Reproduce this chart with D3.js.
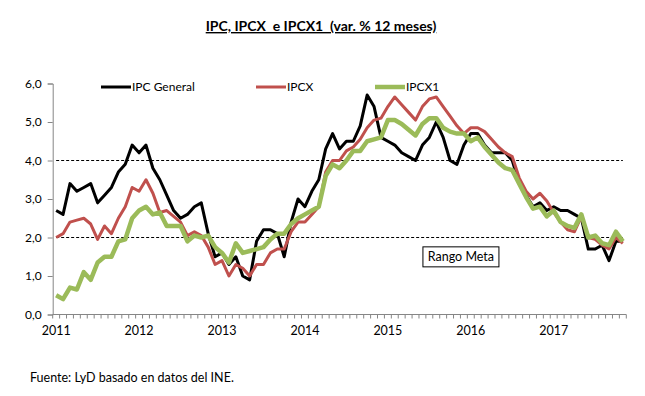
<!DOCTYPE html>
<html>
<head>
<meta charset="utf-8">
<script src="https://cdn.jsdelivr.net/npm/d3@7"></script>
<style>
  body { margin: 0; background: #fff; }
  svg { display: block; font-family: Lato, "Open Sans", sans-serif; }
  .pre { white-space: pre; }
</style>
</head>
<body>
<script>
// IPC, IPCX, IPCX1 - var. % 12 meses, ene 2011 - nov 2017

var months = d3.timeMonth.range(new Date(2011, 0, 1), new Date(2017, 11, 1));

var years = ["2011", "2012", "2013", "2014", "2015", "2016", "2017"];

var ipc = [
  2.7, 2.6, 3.4, 3.2, 3.3, 3.4, 2.9, 3.1, 3.3, 3.7, 3.9, 4.4,
  4.2, 4.4, 3.8, 3.5, 3.1, 2.7, 2.5, 2.6, 2.8, 2.9, 2.1, 1.5,
  1.6, 1.3, 1.5, 1.0, 0.9, 1.9, 2.2, 2.2, 2.1, 1.5, 2.4, 3.0,
  2.8, 3.2, 3.5, 4.3, 4.7, 4.3, 4.5, 4.5, 4.9, 5.7, 5.4, 4.6,
  4.5, 4.4, 4.2, 4.1, 4.0, 4.4, 4.6, 5.0, 4.6, 4.0, 3.9, 4.4,
  4.7, 4.7, 4.4, 4.2, 4.2, 4.2, 4.0, 3.4, 3.1, 2.8, 2.9, 2.7,
  2.8, 2.7, 2.7, 2.6, 2.5, 1.7, 1.7, 1.8, 1.4, 1.9, 1.9
];

var ipcx = [
  2.0, 2.1, 2.4, 2.45, 2.5, 2.35, 1.95, 2.3, 2.1, 2.5, 2.8, 3.3,
  3.2, 3.5, 3.15, 2.65, 2.7, 2.55, 2.4, 2.05, 2.15, 2.05, 1.75, 1.3,
  1.4, 1.0, 1.3, 1.2, 1.0, 1.3, 1.3, 1.6, 1.7, 1.7, 2.15, 2.4,
  2.4, 2.6, 2.8, 3.7, 4.0, 4.0, 4.25, 4.35, 4.55, 4.85, 5.05, 5.1,
  5.4, 5.65, 5.45, 5.25, 5.05, 5.4, 5.6, 5.65, 5.4, 5.15, 4.9, 4.7,
  4.85, 4.85, 4.75, 4.55, 4.35, 4.2, 4.1, 3.55, 3.2, 3.0, 3.15, 2.95,
  2.65, 2.4, 2.2, 2.15, 2.55, 2.0, 1.95, 1.8, 1.7, 2.0, 1.85
];

var ipcx1 = [
  0.5, 0.4, 0.7, 0.65, 1.1, 0.9, 1.35, 1.5, 1.5, 1.9, 1.95, 2.5,
  2.7, 2.8, 2.6, 2.65, 2.3, 2.3, 2.3, 1.9, 2.05, 2.0, 2.05, 1.75,
  1.6, 1.35, 1.85, 1.6, 1.65, 1.7, 1.75, 1.95, 2.1, 2.1, 2.35, 2.5,
  2.6, 2.7, 2.8, 3.6, 3.9, 3.8, 4.0, 4.25, 4.25, 4.5, 4.55, 4.6,
  5.05, 5.05, 4.95, 4.8, 4.65, 4.95, 5.1, 5.1, 4.85, 4.75, 4.7, 4.7,
  4.5, 4.6, 4.35, 4.15, 3.95, 3.8, 3.75, 3.4, 3.05, 2.75, 2.8, 2.55,
  2.7, 2.4, 2.3, 2.25, 2.6, 2.0, 2.05, 1.85, 1.8, 2.15, 1.9
];

var metaRange = [4, 2];   // lineas punteadas del rango meta
var yTicks = [0, 1, 2, 3, 4, 5, 6];

var series = [
  { name: "IPC General", values: ipc,   color: "#000000", width: 3,   legendX: 101 },
  { name: "IPCX",        values: ipcx,  color: "#C0504D", width: 3,   legendX: 256 },
  { name: "IPCX1",       values: ipcx1, color: "#9BBB59", width: 4.5, legendX: 375 }
];

var width = 645, height = 396;

var svg = d3.select("body").append("svg")
  .attr("width", width)
  .attr("height", height);

svg.append("rect").attr("width", width).attr("height", height).attr("fill", "#fff");

// scales
var x = d3.scaleBand()
  .domain(months)
  .range([52.7, 626.3]);

var cx = function(i) { return x(months[i]) + x.bandwidth() / 2; };

var y = d3.scaleLinear()
  .domain([0, 6])
  .range([314.5, 83.5]);

var es = d3.formatLocale({ decimal: ",", thousands: ".", grouping: [3], currency: ["$", ""] });
var fmt = es.format(".1f");

// title
svg.append("text")
  .attr("class", "pre")
  .attr("xml:space", "preserve")
  .attr("x", 321)
  .attr("y", 31)
  .attr("text-anchor", "middle")
  .attr("font-size", 14)
  .attr("font-weight", "bold")
  .attr("text-decoration", "underline")
  .text("IPC, IPCX  e IPCX1  (var. % 12 meses)");

// y axis
var yAxis = svg.append("g")
  .attr("transform", "translate(" + x.range()[0] + ",0)")
  .call(d3.axisLeft(y).tickValues(yTicks).tickFormat(fmt).tickSize(5).tickPadding(6));

yAxis.select(".domain").attr("stroke", "#868686");
yAxis.selectAll(".tick line").attr("stroke", "#868686");
yAxis.selectAll(".tick text")
  .attr("font-family", "Lato, sans-serif")
  .attr("font-size", 12)
  .attr("fill", "#000");

// x axis (ticks between months)
var xAxis = svg.append("g");
var x0 = y(0);

xAxis.append("line")
  .attr("x1", x.range()[0]).attr("x2", x.range()[1])
  .attr("y1", x0).attr("y2", x0)
  .attr("stroke", "#868686");

var bounds = months.map(function(m) { return x(m); }).concat([x.range()[1]]);

xAxis.selectAll(".mtick")
  .data(bounds)
  .enter().append("line")
  .attr("class", "mtick")
  .attr("x1", function(d) { return d; })
  .attr("x2", function(d) { return d; })
  .attr("y1", x0)
  .attr("y2", x0 + 4)
  .attr("stroke", "#868686");

xAxis.selectAll(".year")
  .data(years)
  .enter().append("text")
  .attr("class", "year")
  .attr("x", function(d) { return cx(months.findIndex(function(m) { return m.getFullYear() == +d; })); })
  .attr("y", 335)
  .attr("text-anchor", "middle")
  .attr("font-size", 12.5)
  .text(function(d) { return d; });

// rango meta (dashed)
svg.selectAll(".meta")
  .data(metaRange)
  .enter().append("line")
  .attr("class", "meta")
  .attr("x1", cx(0))
  .attr("x2", cx(months.length - 1))
  .attr("y1", function(d) { return y(d); })
  .attr("y2", function(d) { return y(d); })
  .attr("stroke", "#000")
  .attr("stroke-width", 1)
  .attr("stroke-dasharray", "3,2");

// lines
var line = d3.line()
  .x(function(d, i) { return cx(i); })
  .y(function(d) { return y(d); });

svg.selectAll(".serie")
  .data(series)
  .enter().append("path")
  .attr("class", "serie")
  .attr("d", function(d) { return line(d.values); })
  .attr("fill", "none")
  .attr("stroke", function(d) { return d.color; })
  .attr("stroke-width", function(d) { return d.width; })
  .attr("stroke-linejoin", "round");

// legend
var legend = svg.selectAll(".legend")
  .data(series)
  .enter().append("g")
  .attr("class", "legend")
  .attr("transform", function(d) { return "translate(" + d.legendX + ",87)"; });

legend.append("line")
  .attr("x1", 0).attr("x2", 30)
  .attr("stroke", function(d) { return d.color; })
  .attr("stroke-width", function(d) { return d.width; });

legend.append("text")
  .attr("x", 31)
  .attr("y", 4)
  .attr("font-size", 12)
  .text(function(d) { return d.name; });

// caja "Rango Meta"
var boxX = cx(53), boxY = y(1.77);
var box = svg.append("g").attr("transform", "translate(" + boxX + "," + boxY + ")");
box.append("rect")
  .attr("x", 0.5).attr("y", 0.5)
  .attr("width", 76).attr("height", 20)
  .attr("fill", "#fff")
  .attr("stroke", "#000");
box.append("text")
  .attr("x", 38.5)
  .attr("y", 15)
  .attr("text-anchor", "middle")
  .attr("font-size", 12.5)
  .text("Rango Meta");

// fuente
svg.append("text")
  .attr("x", 30)
  .attr("y", 382)
  .attr("font-size", 12.5)
  .text("Fuente: LyD basado en datos del INE.");
</script>
</body>
</html>
